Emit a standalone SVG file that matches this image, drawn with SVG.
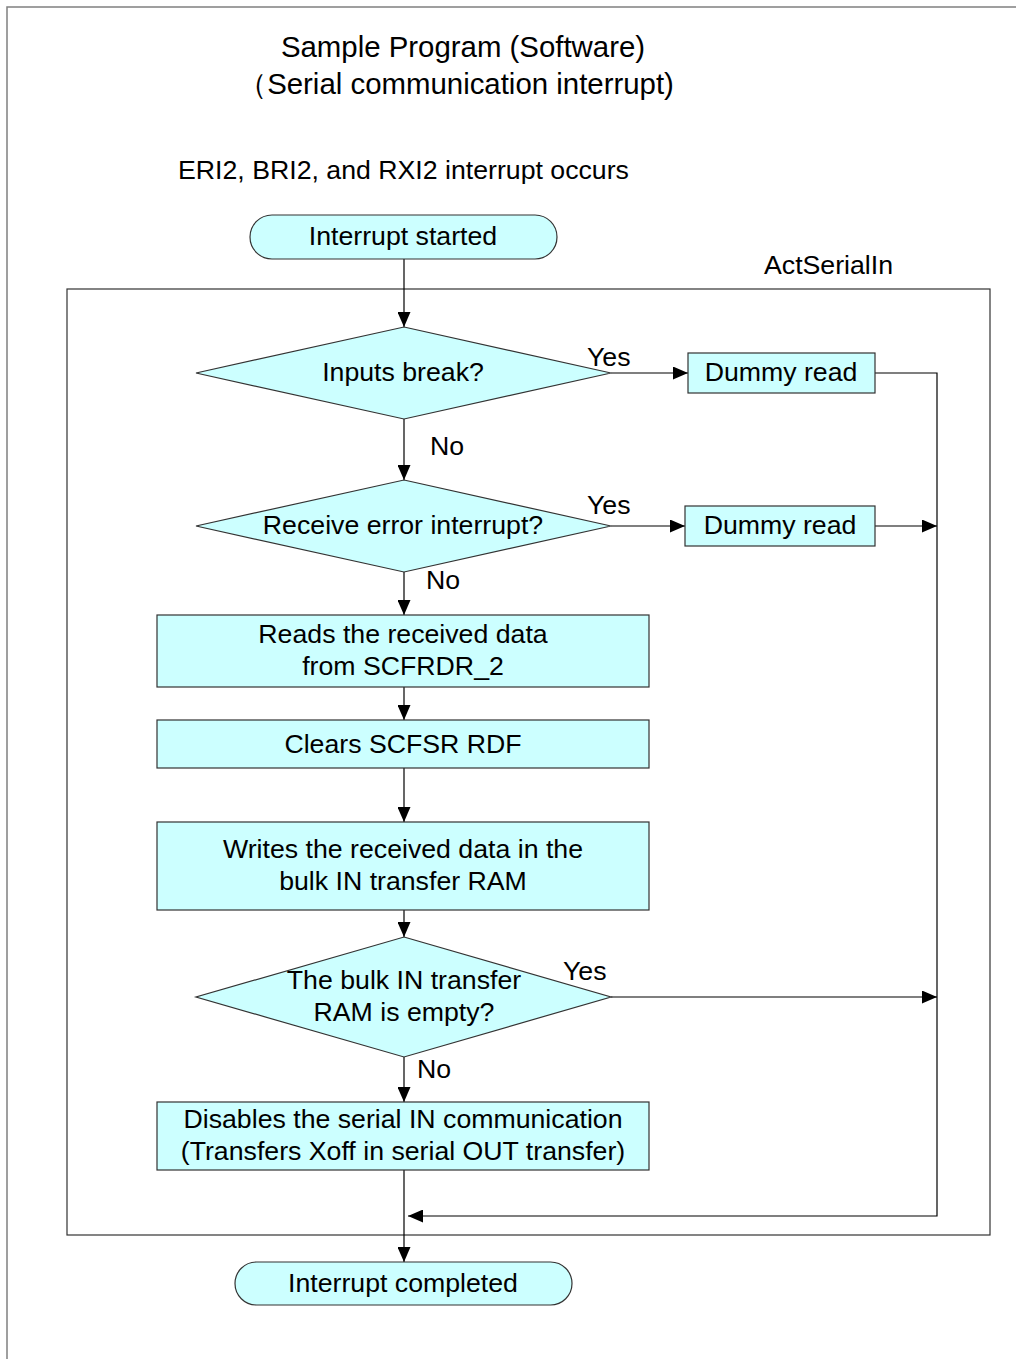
<svg xmlns="http://www.w3.org/2000/svg" width="1016" height="1359" viewBox="0 0 1016 1359">
<style>
text{font-family:"Liberation Sans",Arial,sans-serif;fill:#000;}
.t{font-size:26.7px;text-anchor:middle;}
.h{font-size:29.4px;text-anchor:middle;}
.l{font-size:26.7px;}
.n{fill:#ccffff;stroke:#333;stroke-width:1.2;}
.c{fill:none;stroke:#000;stroke-width:1.2;}
</style>
<defs>
<marker id="ah" viewBox="0 0 15 13" refX="15" refY="6.5" markerWidth="15" markerHeight="13" markerUnits="userSpaceOnUse" orient="auto">
<path d="M0,0 L15,6.5 L0,13 Z" fill="#000"/>
</marker>
</defs>
<rect x="7" y="7" width="1030" height="1370" fill="#fff" stroke="#808080" stroke-width="1.5"/>
<text class="h" x="463" y="57">Sample Program (Software)</text>
<text class="h" x="456" y="94">（Serial communication interrupt)</text>
<text class="l" x="178" y="179">ERI2, BRI2, and RXI2 interrupt occurs</text>
<text class="l" x="764" y="274">ActSerialIn</text>
<rect id="frame" x="67" y="289" width="923" height="946" fill="none" stroke="#333" stroke-width="1.2"/>
<g id="connectors">
<line class="c" x1="404" y1="259" x2="404" y2="327" marker-end="url(#ah)"/>
<line class="c" x1="611" y1="373" x2="688" y2="373" marker-end="url(#ah)"/>
<polyline class="c" points="875,373 937,373 937,1216 408,1216" marker-end="url(#ah)"/>
<line class="c" x1="404" y1="419" x2="404" y2="480" marker-end="url(#ah)"/>
<line class="c" x1="611" y1="526" x2="685" y2="526" marker-end="url(#ah)"/>
<line class="c" x1="875" y1="526" x2="937" y2="526" marker-end="url(#ah)"/>
<line class="c" x1="404" y1="572" x2="404" y2="615" marker-end="url(#ah)"/>
<line class="c" x1="404" y1="687" x2="404" y2="720" marker-end="url(#ah)"/>
<line class="c" x1="404" y1="768" x2="404" y2="822" marker-end="url(#ah)"/>
<line class="c" x1="404" y1="910" x2="404" y2="937" marker-end="url(#ah)"/>
<line class="c" x1="611" y1="997" x2="937" y2="997" marker-end="url(#ah)"/>
<line class="c" x1="404" y1="1057" x2="404" y2="1102" marker-end="url(#ah)"/>
<line class="c" x1="404" y1="1170" x2="404" y2="1262" marker-end="url(#ah)"/>
<text class="l" x="587" y="366">Yes</text>
<text class="l" x="430" y="455">No</text>
<text class="l" x="587" y="514">Yes</text>
<text class="l" x="426" y="589">No</text>
<text class="l" x="563" y="980">Yes</text>
<text class="l" x="417" y="1078">No</text>
</g>
<g id="start">
<rect class="n" x="250" y="215" width="307" height="44" rx="22"/>
<text class="t" x="403" y="245">Interrupt started</text>
</g>
<g id="d1">
<polygon class="n" points="404,327 611,373 404,419 196,373"/>
<text class="t" x="403" y="381">Inputs break?</text>
</g>
<g id="dummy1">
<rect class="n" x="688" y="353" width="187" height="40"/>
<text class="t" x="781" y="381">Dummy read</text>
</g>
<g id="d2">
<polygon class="n" points="404,480 611,526 404,572 196,526"/>
<text class="t" x="403" y="534">Receive error interrupt?</text>
</g>
<g id="dummy2">
<rect class="n" x="685" y="506" width="190" height="40"/>
<text class="t" x="780" y="534">Dummy read</text>
</g>
<g id="b3">
<rect class="n" x="157" y="615" width="492" height="72"/>
<text class="t" x="403" y="643">Reads the received data</text>
<text class="t" x="403" y="675">from SCFRDR_2</text>
</g>
<g id="b4">
<rect class="n" x="157" y="720" width="492" height="48"/>
<text class="t" x="403" y="753">Clears SCFSR RDF</text>
</g>
<g id="b5">
<rect class="n" x="157" y="822" width="492" height="88"/>
<text class="t" x="403" y="858">Writes the received data in the</text>
<text class="t" x="403" y="890">bulk IN transfer RAM</text>
</g>
<g id="d3">
<polygon class="n" points="404,937 611,997 404,1057 196,997"/>
<text class="t" x="404" y="989">The bulk IN transfer</text>
<text class="t" x="404" y="1021">RAM is empty?</text>
</g>
<g id="b6">
<rect class="n" x="157" y="1102" width="492" height="68"/>
<text class="t" x="403" y="1128">Disables the serial IN communication</text>
<text class="t" x="403" y="1160">(Transfers Xoff in serial OUT transfer)</text>
</g>
<g id="end">
<rect class="n" x="235" y="1262" width="337" height="43" rx="21.5"/>
<text class="t" x="403" y="1292">Interrupt completed</text>
</g>
</svg>
